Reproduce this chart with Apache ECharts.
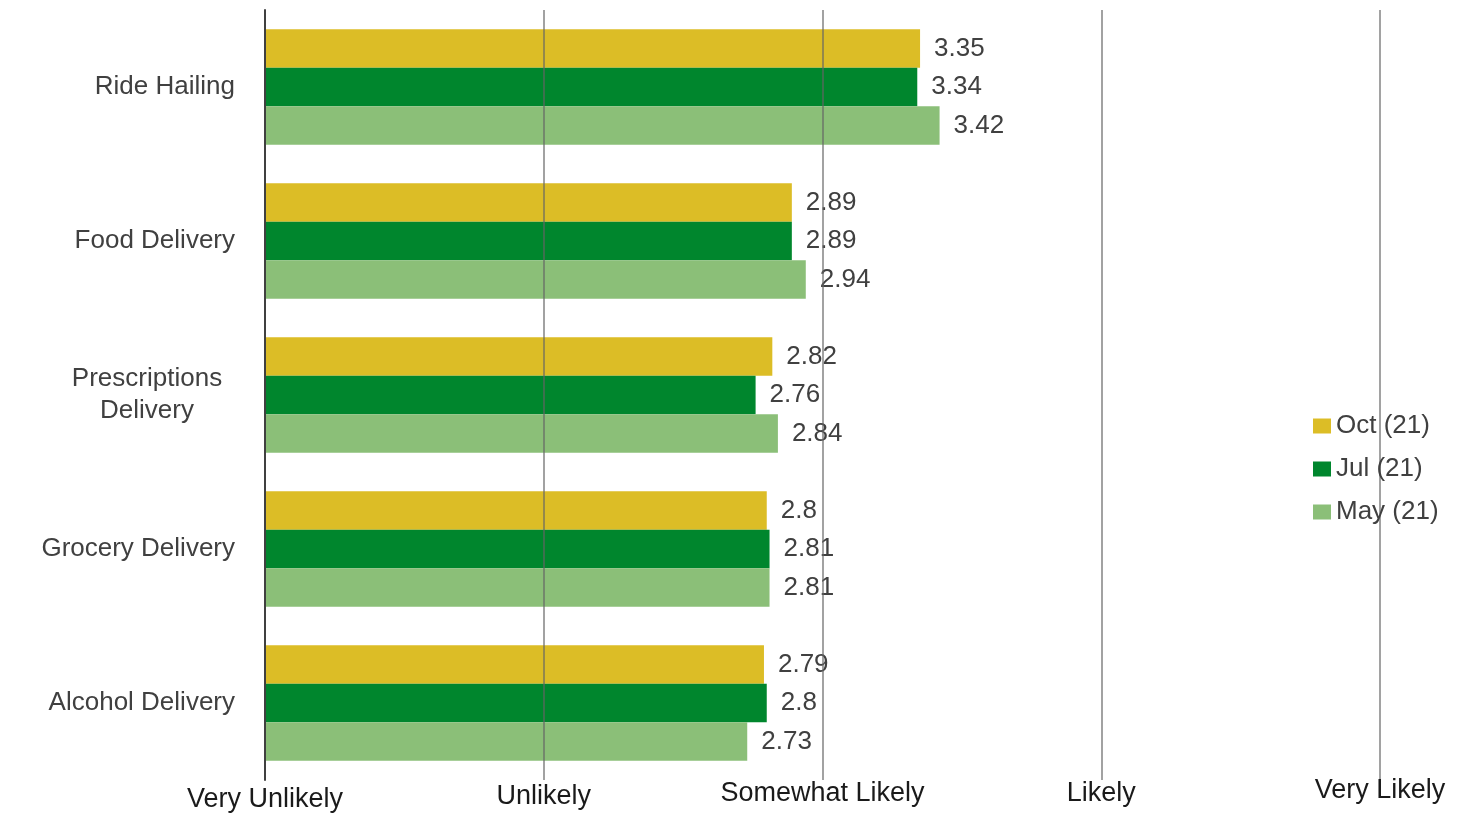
<!DOCTYPE html>
<html>
<head>
<meta charset="utf-8">
<script src="https://cdn.jsdelivr.net/npm/echarts@6/dist/echarts.min.js"></script>
<style>html,body{margin:0;padding:0;background:#fff;}#c{width:1463px;height:815px;}</style>
</head>
<body>
<div id="c"></div>
<script>
const categories = ['Ride Hailing', 'Food Delivery', 'Prescriptions Delivery', 'Grocery Delivery', 'Alcohol Delivery'];
const seriesNames = ['Oct (21)', 'Jul (21)', 'May (21)'];
const octValues = [3.35, 2.89, 2.82, 2.80, 2.79];
const julValues = [3.34, 2.89, 2.76, 2.81, 2.80];
const mayValues = [3.42, 2.94, 2.84, 2.81, 2.73];
const tickLabels = ['Very Unlikely', 'Unlikely', 'Somewhat Likely', 'Likely', 'Very Likely'];
const colors = ['#DCBD26', '#00862D', '#8BBF78'];

const FONT = 'Arial';
const tickRich = {};
const tickLH = [40, 34, 28, 28, 22];
tickLabels.forEach((t, i) => {
  tickRich['t' + i] = { fontSize: 27, fontFamily: FONT, color: '#1a1a1a', lineHeight: tickLH[i] };
});

function mkSeries(name, data, color) {
  return {
    name: name,
    type: 'bar',
    data: data,
    barGap: '0%',
    barCategoryGap: '25%',
    itemStyle: { color: color },
    label: {
      show: true,
      position: 'right',
      distance: 14,
      fontSize: 26,
      fontFamily: FONT,
      color: '#404040',
      formatter: p => String(p.value)
    }
  };
}

const chart = echarts.init(document.getElementById('c'));
chart.setOption({
  animation: false,
  backgroundColor: '#fff',
  textStyle: { fontFamily: FONT },
  grid: { left: 265, right: 83, top: 10, bottom: 35, containLabel: false, outerBoundsMode: 'none' },
  legend: {
    orient: 'vertical',
    left: 1313,
    top: 413,
    padding: 0,
    itemWidth: 18,
    itemHeight: 15,
    itemGap: 17,
    itemTextGap: 8,
    icon: 'rect',
    data: seriesNames,
    textStyle: { fontSize: 26, fontFamily: FONT, color: '#404040', lineHeight: 26 }
  },
  xAxis: {
    type: 'value',
    min: 1,
    max: 5,
    interval: 1,
    z: 3,
    axisLine: { show: false },
    axisTick: { show: false },
    splitLine: { show: true, lineStyle: { color: 'rgba(100,100,100,0.6)', width: 2 } },
    axisLabel: {
      margin: 0,
      formatter: v => { const i = Math.round(v) - 1; return '{t' + i + '|' + tickLabels[i] + '}'; },
      rich: tickRich
    }
  },
  yAxis: {
    type: 'category',
    inverse: true,
    data: categories,
    z: 4,
    axisLine: { show: true, lineStyle: { color: '#404040', width: 2 } },
    axisTick: { show: false },
    axisLabel: {
      margin: 30,
      fontSize: 26,
      fontFamily: FONT,
      color: '#404040',
      formatter: v => v === 'Prescriptions Delivery' ? '{p|Prescriptions}\n{p|Delivery}' : v,
      rich: { p: { fontSize: 26, fontFamily: FONT, color: '#404040', width: 176, align: 'center', lineHeight: 32 } }
    }
  },
  series: [
    mkSeries(seriesNames[0], octValues, colors[0]),
    mkSeries(seriesNames[1], julValues, colors[1]),
    mkSeries(seriesNames[2], mayValues, colors[2])
  ]
});
</script>
</body>
</html>
